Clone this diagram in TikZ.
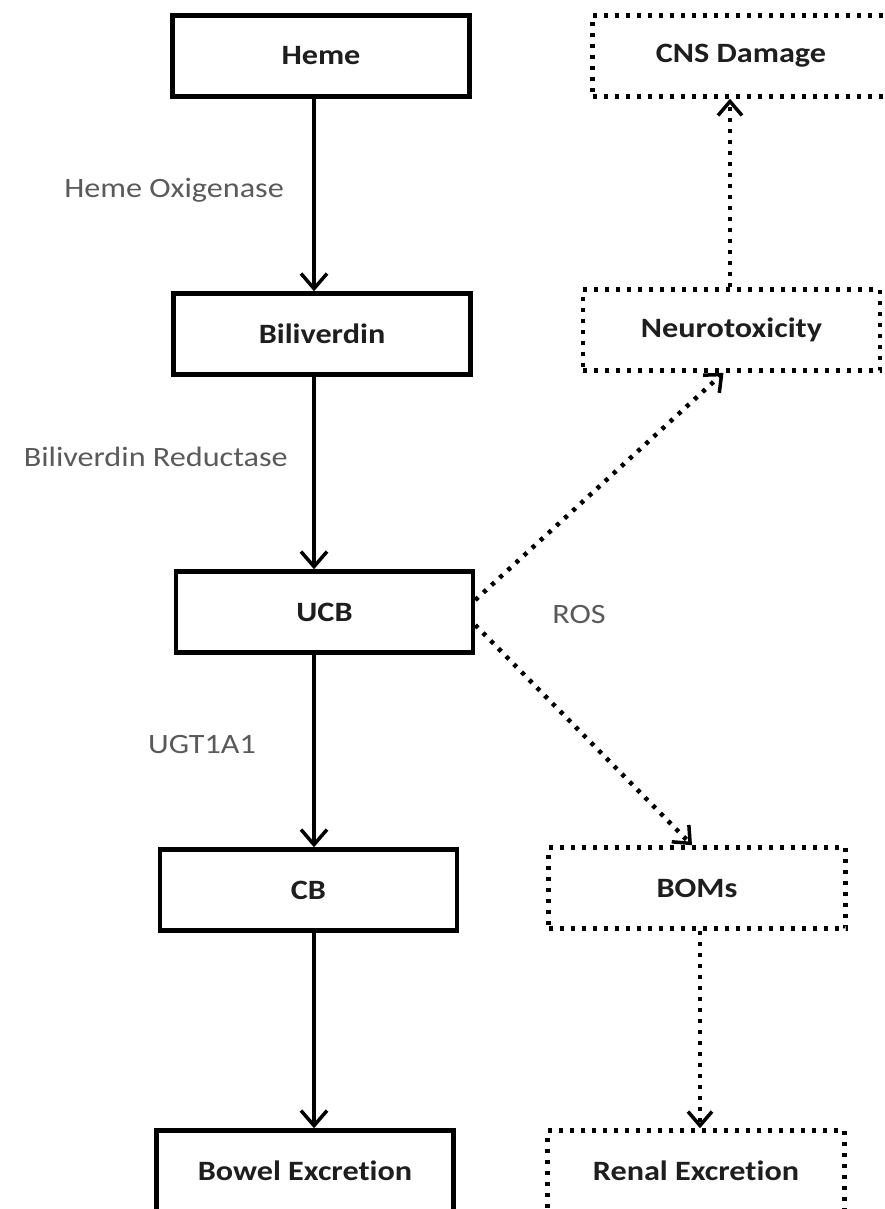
\documentclass[tikz,border=0pt]{standalone}
\usepackage{fontspec}
\setmainfont{Carlito}[FakeStretch=1.15,RawFeature={-liga}]
\usetikzlibrary{arrows.meta,calc,decorations.markings}
\definecolor{labgray}{HTML}{5A5A5A}
\definecolor{boxtext}{HTML}{1E1E1E}
\begin{document}
\begin{tikzpicture}[x=1pt,y=1pt,
  solidbox/.style={draw=black, fill=white, line width=4.5pt, minimum width=297pt, minimum height=81pt, inner sep=0pt, font=\fontsize{28}{32}\selectfont\bfseries, text=boxtext},
  dotbox/.style={solidbox, line width=4.5pt, dash pattern=on 4pt off 7pt},
  flow/.style={line width=3.5pt, -{Straight Barb[length=15pt,width=26pt,line width=3.5pt]}},
  dotflow/.style={line width=4.5pt, dash pattern=on 4pt off 7pt, shorten >=1.5pt,
    postaction={decorate},
    decoration={markings, mark=at position 1 with {\pgfsetdash{}{0pt}\arrow{Straight Barb[length=14pt,width=24pt,line width=3.5pt]}}}},
  lab/.style={font=\fontsize{28}{32}\selectfont, text=labgray, inner sep=0pt}]
\fill[white] (0,0) rectangle (885,-1209);
\useasboundingbox (0,0) rectangle (885,-1209);

% left column
\node[solidbox] (heme) at (321,-56) {Heme};
\node[solidbox] (bili) at (322,-334) {Biliverdin};
\node[solidbox] (ucb)  at (324.5,-612) {UCB};
\node[solidbox] (cb)   at (308.5,-890) {CB};
\node[solidbox] (bowel) at (305,-1171) {Bowel Excretion};

% right column
\node[dotbox] (cns)   at (741,-56) {CNS Damage};
\node[dotbox] (neuro) at (731.5,-330) {Neurotoxicity};
\node[dotbox] (boms)  at (697,-888) {BOMs};
\node[dotbox] (renal) at (696,-1171) {Renal Excretion};

% axes for vertical connectors
\coordinate (axA) at (314,0);
\coordinate (axB) at (730,0);
\coordinate (axC) at (700,0);

\draw[flow] (heme.south -| axA) -- (bili.north -| axA);
\draw[flow] (bili.south -| axA) -- (ucb.north -| axA);
\draw[flow] (ucb.south -| axA) -- (cb.north -| axA);
\draw[flow] (cb.south -| axA) -- (bowel.north -| axA);

\draw[dotflow] (neuro.north -| axB) -- (cns.south -| axB);
\draw[dotflow] ([yshift=12]ucb.east) -- ([xshift=-8]neuro.south);
\draw[dotflow] ([yshift=-13]ucb.east) -- ([xshift=-5]boms.north);
\draw[dotflow] (boms.south -| axC) -- (renal.north -| axC);

% labels
\node[lab, anchor=east] (lho) at (284,-190) {Heme Oxigenase};
\node[lab, anchor=east] (lbr) at (288,-457) {Biliverdin Reductase};
\node[lab] (lros) at (579,-615) {ROS};
\node[lab] (lugt) at (202,-745) {UGT1A1};
\end{tikzpicture}
\end{document}
